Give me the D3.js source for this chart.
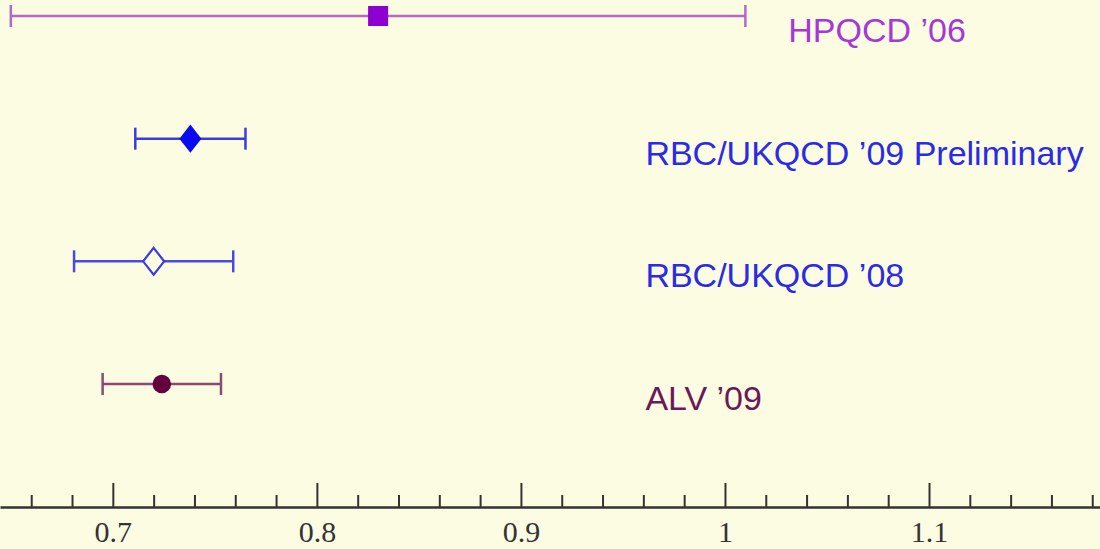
<!DOCTYPE html>
<html>
<head>
<meta charset="utf-8">
<script src="https://cdn.jsdelivr.net/npm/d3@7"></script>
<style>
  html, body { margin: 0; padding: 0; background: #fcfce2; }
  svg { display: block; }
</style>
</head>
<body>
<svg id="chart"></svg>
<script>
// results, one row per group (top to bottom)
const labels = ["HPQCD \u201906", "RBC/UKQCD \u201909 Preliminary", "RBC/UKQCD \u201908", "ALV \u201909"];
const centers = [0.830, 0.738, 0.720, 0.724];
const lows = [0.650, 0.711, 0.681, 0.695];
const highs = [1.010, 0.765, 0.759, 0.753];
const labelAt = [1.031, 0.961, 0.961, 0.961];
const majorTicks = [0.7, 0.8, 0.9, 1, 1.1];

const width = 1100;
const height = 549;

const markerShape = ["square", "diamond", "diamondOpen", "circle"];
const barColor = ["#b468c8", "#3a3ae6", "#4a4ae0", "#8a4a78"];
const markColor = ["#8e00d0", "#0a0af0", "#3a3ae6", "#640040"];
const textColor = ["#a638d8", "#2a2ae8", "#2a2ae8", "#6a1a5a"];

const svg = d3.select("#chart")
  .attr("width", width)
  .attr("height", height);

const x = d3.scaleLinear()
  .domain([0.6447, 1.1838])
  .range([0, width]);

const y = d3.scalePoint()
  .domain(labels)
  .range([16, 384]);

// axis: minor ticks first, then the major ones with labels
const axisY = 507;

const minor = x.ticks(27).filter(t => !majorTicks.some(m => Math.abs(m - t) < 1e-6));

svg.append("g")
  .attr("class", "minor")
  .attr("transform", `translate(0,${axisY})`)
  .call(d3.axisBottom(x).tickValues(minor).tickSize(-12).tickSizeOuter(0).tickFormat(""))
  .call(g => g.select(".domain").remove())
  .call(g => g.selectAll("line").attr("stroke", "#333").attr("stroke-width", 2));

svg.append("g")
  .attr("class", "major")
  .attr("transform", `translate(0,${axisY})`)
  .call(d3.axisBottom(x).tickValues(majorTicks).tickSize(-24).tickSizeOuter(0).tickPadding(16).tickFormat(d3.format("")))
  .call(g => g.select(".domain").attr("stroke", "#333").attr("stroke-width", 2.5))
  .call(g => g.selectAll("line").attr("stroke", "#333").attr("stroke-width", 2))
  .call(g => g.selectAll("text")
    .attr("fill", "#333")
    .attr("font-family", "'Liberation Serif', 'DejaVu Serif', serif")
    .attr("font-size", 30)
    .attr("y", 35)
    .attr("dy", null));

// error bars
const rows = labels.map((l, i) => ({ label: l, c: centers[i], lo: lows[i], hi: highs[i], i }));

const g = svg.append("g");

g.selectAll("line.bar")
  .data(rows)
  .join("line")
  .attr("class", "bar")
  .attr("x1", d => x(d.lo))
  .attr("x2", d => x(d.hi))
  .attr("y1", d => y(d.label))
  .attr("y2", d => y(d.label))
  .attr("stroke", d => barColor[d.i])
  .attr("stroke-width", 2.5);

const caps = rows.flatMap(d => [{ d, v: d.lo }, { d, v: d.hi }]);
g.selectAll("line.cap")
  .data(caps)
  .join("line")
  .attr("class", "cap")
  .attr("x1", c => x(c.v))
  .attr("x2", c => x(c.v))
  .attr("y1", c => y(c.d.label) - 11)
  .attr("y2", c => y(c.d.label) + 11)
  .attr("stroke", c => barColor[c.d.i])
  .attr("stroke-width", 2.5);

// markers
const symbols = {
  square: d3.symbol().type(d3.symbolSquare).size(400),
  diamond: d3.symbol().type(d3.symbolDiamond).size(230),
  diamondOpen: d3.symbol().type(d3.symbolDiamond).size(210),
  circle: d3.symbol().type(d3.symbolCircle).size(270)
};

g.selectAll("path.mark")
  .data(rows)
  .join("path")
  .attr("class", "mark")
  .attr("transform", d => `translate(${x(d.c)},${y(d.label)}) scale(${markerShape[d.i].startsWith("diamond") ? 1.35 : 1},1)`)
  .attr("d", d => symbols[markerShape[d.i]]())
  .attr("fill", d => markerShape[d.i] === "diamondOpen" ? "#fcfce2" : markColor[d.i])
  .attr("stroke", d => markColor[d.i])
  .attr("stroke-width", d => markerShape[d.i] === "diamondOpen" ? 1.8 : 0);

// labels
g.selectAll("text.name")
  .data(rows)
  .join("text")
  .attr("class", "name")
  .attr("x", d => x(labelAt[d.i]))
  .attr("y", d => y(d.label) + 26)
  .attr("fill", d => textColor[d.i])
  .attr("font-family", "'Liberation Sans', Arial, sans-serif")
  .attr("font-size", 34)
  .text(d => d.label);
</script>
</body>
</html>
